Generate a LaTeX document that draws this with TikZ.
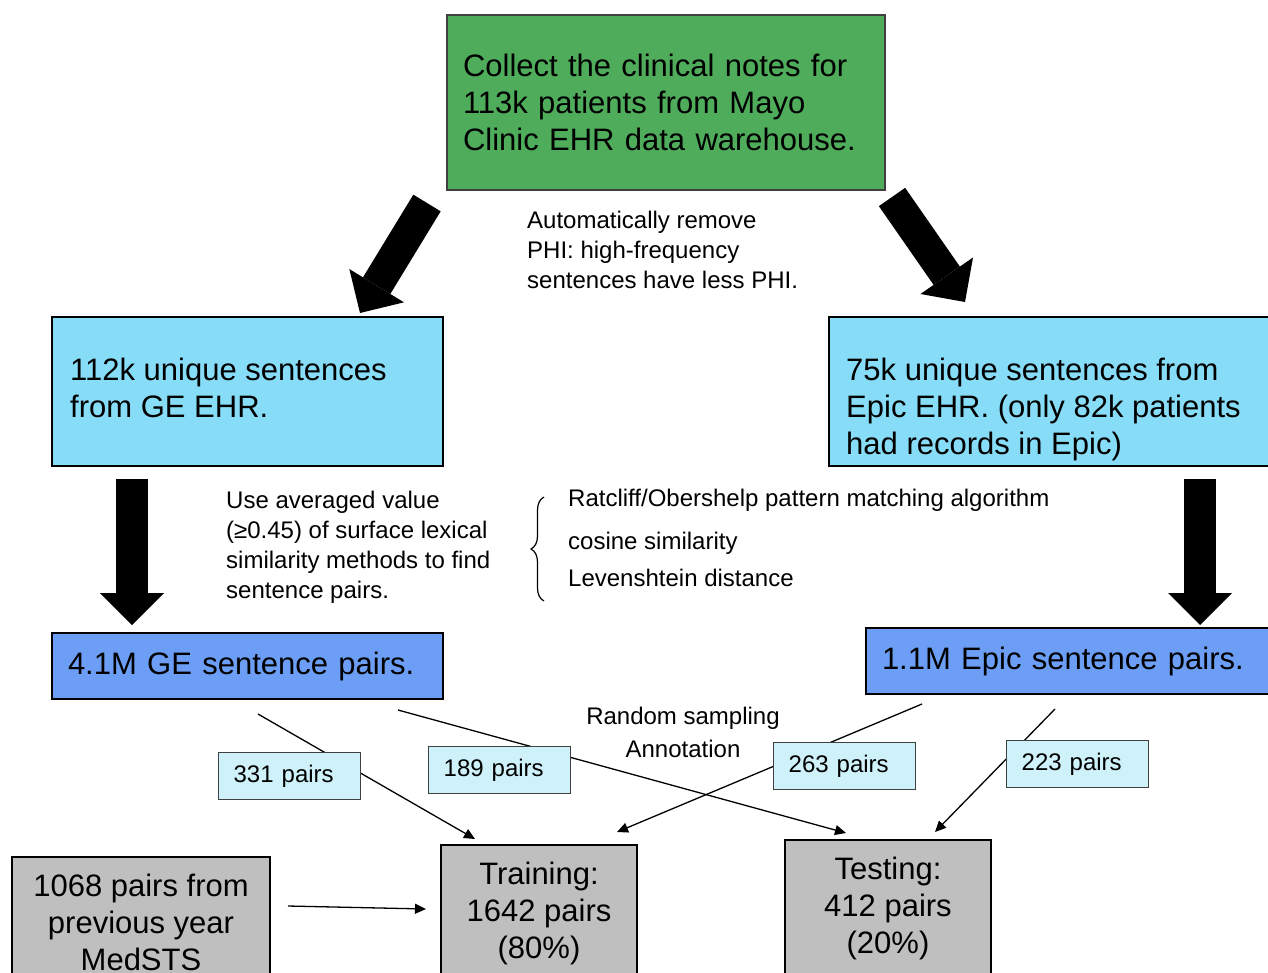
\documentclass[tikz,border=0pt]{standalone}
\usepackage{fontspec}
\setmainfont{Liberation Sans}
\usetikzlibrary{positioning, arrows.meta, decorations.pathreplacing}

\definecolor{notegreen}{RGB}{78,172,91}
\definecolor{sentcyan}{RGB}{135,221,247}
\definecolor{pairblue}{RGB}{109,158,245}
\definecolor{samplecyan}{RGB}{207,241,250}
\definecolor{setgray}{RGB}{191,191,191}

\newcommand{\boxfont}{\fontsize{31}{37}\selectfont}
\newcommand{\notefont}{\fontsize{24}{30}\selectfont}

\tikzset{
  sentbox/.style={draw, line width=2.5pt, fill=sentcyan, minimum height=149pt, anchor=north west, outer sep=0pt},
  boxtext/.style={anchor=north west, inner sep=0pt, align=left, font=\boxfont},
  pairbox/.style={draw, line width=2.5pt, fill=pairblue, minimum height=66pt, inner xsep=16pt, align=left, font=\boxfont, anchor=north west, outer sep=0pt},
  setbox/.style={draw, line width=2.5pt, fill=setgray, anchor=north, inner xsep=0pt, inner ysep=17pt, align=center, font=\boxfont, outer sep=0pt},
  samplebox/.style={draw=black!75, line width=1.3pt, fill=samplecyan, minimum width=142pt, minimum height=47pt, text width=112pt, inner xsep=15pt, align=left, font=\notefont, anchor=north west},
  note/.style={anchor=north west, inner sep=0pt, align=left, font=\notefont},
  fatarrow/.style={line width=32pt, -{Triangle[length=32pt, width=64pt, line width=0pt]}},
  sampleline/.style={line width=1.3pt, -{Triangle[length=11pt, width=10pt]}}
}

\begin{document}
\begin{tikzpicture}[x=1pt, y=-1pt]
\useasboundingbox (0,0) rectangle (1268,972);
\clip (0,0) rectangle (1268,972);

% source
\node (collect) [draw=black!75, line width=1.5pt, fill=notegreen, minimum width=438pt, minimum height=175pt, text width=406pt, inner xsep=16pt, align=left, font=\boxfont, outer sep=0pt] at (666,102.5) {Collect the clinical notes for\\113k patients from Mayo\\Clinic EHR data warehouse.};

% unique sentences
\node (ge) [sentbox, minimum width=391pt] at (52,317) {};
\node (getxt) [boxtext] at ([xshift=18pt, yshift=-41pt]ge.north west) {112k unique sentences\\from GE EHR.};
\node (epic) [sentbox, minimum width=460pt] at (829,317) {};
\node (epictxt) [boxtext] at ([xshift=17pt, yshift=-41pt]epic.north west) {75k unique sentences from\\Epic EHR. (only 82k patients\\had records in Epic)};

% sentence pairs
\node (gepairs) [pairbox, minimum width=391pt, text width=359pt] at (52,633) {4.1M GE sentence pairs.};
\node (epicpairs) [pairbox, minimum width=420pt, text width=388pt] at (866,628) {1.1M Epic sentence pairs.};

% evaluation sets
\node (medsts) [setbox, minimum width=258pt] at (141,857) {1068 pairs from\\previous year\\MedSTS};
\node (training) [setbox, minimum width=196pt] at (539,845) {Training:\\1642 pairs\\(80\%)};
\node (testing) [setbox, minimum width=206pt] at (888,840) {Testing:\\412 pairs\\(20\%)};

% block arrows
\draw [fatarrow] ([xshift=-20pt, yshift=-13pt]collect.south west) -- ([xshift=-83pt, yshift=4pt]ge.north east);
\draw [fatarrow] ([xshift=7pt, yshift=-7pt]collect.south east) -- ([xshift=136pt, yshift=15pt]epic.north west);
\draw [fatarrow] ([xshift=80pt, yshift=-13pt]ge.south west) -- ([xshift=80pt, yshift=8pt]gepairs.north west);
\draw [fatarrow] ([xshift=371pt, yshift=-13pt]epic.south west) -- ([xshift=334pt, yshift=3pt]epicpairs.north west);

% sampling lines
\draw [sampleline] ([xshift=206pt, yshift=-15pt]gepairs.south west) -- ([xshift=34pt, yshift=6pt]training.north west);
\draw [sampleline] ([xshift=346pt, yshift=-11pt]gepairs.south west) -- ([xshift=61pt, yshift=7pt]testing.north west);
\draw [sampleline] ([xshift=56pt, yshift=-10pt]epicpairs.south west) -- ([xshift=176pt, yshift=13pt]training.north west);
\draw [sampleline] ([xshift=189pt, yshift=-15pt]epicpairs.south west) -- ([xshift=150pt, yshift=8pt]testing.north west);
\draw [sampleline] ([xshift=18pt, yshift=-49pt]medsts.north east) -- ([xshift=-15pt, yshift=-64pt]training.north west);

% sample sizes
\node (p331) [samplebox] at (218,752) {331 pairs};
\node (p189) [samplebox] at (428,746) {189 pairs};
\node (p263) [samplebox] at (773,742) {263 pairs};
\node (p223) [samplebox] at (1006,740) {223 pairs};

% notes
\node (phinote) [note] at (527,211) {Automatically remove\\PHI: high-frequency\\sentences have less PHI.};
\node (simnote) [note] at (226,491) {Use averaged value\\(≥0.45) of surface lexical\\similarity methods to find\\sentence pairs.};
\draw [line width=1.2pt, decorate, decoration={brace, amplitude=13pt}] (544,601) -- (544,497);
\node (ratcliff) [note, anchor=base west] at (568,506) {Ratcliff/Obershelp pattern matching algorithm};
\node (cosine) [note, anchor=base west] at (568,549) {cosine similarity};
\node (leven) [note, anchor=base west] at (568,586) {Levenshtein distance};
\node (random) [note, anchor=base] at (683,724) {Random sampling};
\node (annot) [note, anchor=base] at (683,757) {Annotation};
\end{tikzpicture}
\end{document}
